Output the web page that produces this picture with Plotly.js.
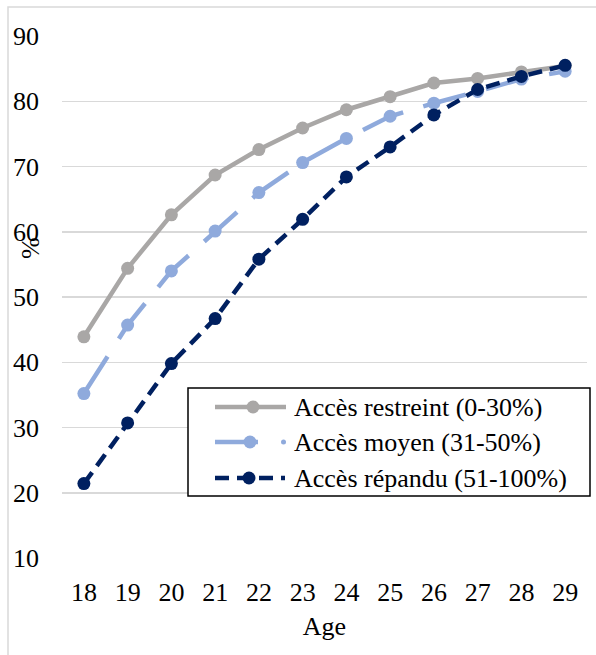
<!DOCTYPE html>
<html>
<head>
<meta charset="utf-8">
<script src="https://cdn.plot.ly/plotly-3.0.1.min.js"></script>
<style>
  html, body { margin: 0; padding: 0; background: #fff; }
  #chart { width: 596px; height: 655px; }
</style>
</head>
<body>
<div id="chart"></div>
<script>
// ---- Data ----
const ages = [18, 19, 20, 21, 22, 23, 24, 25, 26, 27, 28, 29];
const restreint = [43.9, 54.4, 62.6, 68.7, 72.6, 75.9, 78.7, 80.7, 82.8, 83.5, 84.5, 85.4];
const moyen     = [35.2, 45.7, 54.0, 60.1, 66.0, 70.6, 74.3, 77.7, 79.7, 81.5, 83.4, 84.6];
const repandu   = [21.4, 30.7, 39.8, 46.7, 55.8, 61.9, 68.4, 73.0, 77.9, 81.8, 83.8, 85.5];
const seriesNames = ["Accès restreint (0-30%)", "Accès moyen (31-50%)", "Accès répandu (51-100%)"];
const yTicks = [10, 20, 30, 40, 50, 60, 70, 80, 90];
const xTitle = "Age";
const yTitle = "%";

// ---- Styling ----
const FONT = "Liberation Serif";
const cGray = "#A9A7A6";
const cLight = "#8FAADC";
const cDark = "#002060";

const W = 596, H = 655;
const M = {l: 62, r: 9, t: 36, b: 97};
const PW = W - M.l - M.r, PH = H - M.t - M.b;
const px = v => (v - M.l) / PW;
const py = v => (H - M.b - v) / PH;

const traces = [
  {x: ages, y: restreint, name: seriesNames[0], mode: "lines+markers",
   line: {color: cGray, width: 4.5}, marker: {color: cGray, size: 13}},
  {x: ages, y: moyen, name: seriesNames[1], mode: "lines+markers",
   line: {color: cLight, width: 4.5, dash: "44px,21px"}, marker: {color: cLight, size: 13}},
  {x: ages, y: repandu, name: seriesNames[2], mode: "lines+markers",
   line: {color: cDark, width: 4.5, dash: "14px,8px"}, marker: {color: cDark, size: 13}}
];

// custom legend
const rows = [407, 442, 478];
const shapes = [
  // outer chart border
  {type: "rect", xref: "paper", yref: "paper", x0: px(8), x1: px(640), y0: py(700), y1: py(7),
   line: {color: "#D9D9D9", width: 1.5}, fillcolor: "rgba(0,0,0,0)", layer: "below"},
  // legend box
  {type: "rect", xref: "paper", yref: "paper", x0: px(188), x1: px(590), y0: py(496), y1: py(388),
   line: {color: "#000", width: 1.5}, fillcolor: "#fff", layer: "above"},
  // row 1
  {type: "line", xref: "paper", yref: "paper", x0: px(215), x1: px(286), y0: py(rows[0]), y1: py(rows[0]),
   line: {color: cGray, width: 4.5}},
  {type: "circle", xref: "paper", yref: "paper", x0: px(246.5), x1: px(259.5), y0: py(rows[0] + 6.5), y1: py(rows[0] - 6.5),
   line: {color: cGray, width: 0}, fillcolor: cGray},
  // row 2
  {type: "line", xref: "paper", yref: "paper", x0: px(215), x1: px(258), y0: py(rows[1]), y1: py(rows[1]),
   line: {color: cLight, width: 4.5}},
  {type: "circle", xref: "paper", yref: "paper", x0: px(243.5), x1: px(256.5), y0: py(rows[1] + 6.5), y1: py(rows[1] - 6.5),
   line: {color: cLight, width: 0}, fillcolor: cLight},
  {type: "circle", xref: "paper", yref: "paper", x0: px(281), x1: px(286), y0: py(rows[1] + 2.5), y1: py(rows[1] - 2.5),
   line: {color: cLight, width: 0}, fillcolor: cLight},
  // row 3
  {type: "line", xref: "paper", yref: "paper", x0: px(215), x1: px(285), y0: py(rows[2]), y1: py(rows[2]),
   line: {color: cDark, width: 4.5, dash: "14px,8px"}},
  {type: "circle", xref: "paper", yref: "paper", x0: px(242.5), x1: px(255.5), y0: py(rows[2] + 6.5), y1: py(rows[2] - 6.5),
   line: {color: cDark, width: 0}, fillcolor: cDark}
];

const annotations = seriesNames.map((n, i) => ({
  xref: "paper", yref: "paper", x: px(292), y: py(rows[i]), xanchor: "left", yanchor: "middle",
  text: n, showarrow: false, font: {family: FONT, size: 26, color: "#000"}
}));
annotations.push({
  xref: "paper", yref: "paper", x: px(30), y: py(248), xanchor: "center", yanchor: "middle",
  text: yTitle, textangle: -90, showarrow: false, font: {family: FONT, size: 26, color: "#000"}
});

const layout = {
  width: W, height: H,
  margin: M,
  paper_bgcolor: "#fff", plot_bgcolor: "#fff",
  showlegend: false,
  font: {family: FONT, size: 26, color: "#000"},
  xaxis: {
    range: [17.5, 29.5], tickvals: ages, ticktext: ages.map(String),
    showgrid: false, zeroline: false, showline: false, ticks: "",
    ticklabelstandoff: 16,
    tickfont: {family: FONT, size: 26, color: "#000"},
    title: {text: xTitle, font: {family: FONT, size: 26, color: "#000"}, standoff: 10}
  },
  yaxis: {
    range: [10, 90], tickvals: yTicks,
    showgrid: true, gridcolor: "#D9D9D9", gridwidth: 1.5,
    zeroline: false, showline: false, ticks: "",
    ticklabelstandoff: 22,
    tickfont: {family: FONT, size: 26, color: "#000"}
  },
  shapes: shapes,
  annotations: annotations
};

Plotly.newPlot("chart", traces, layout, {displayModeBar: false, staticPlot: true});
</script>
</body>
</html>
